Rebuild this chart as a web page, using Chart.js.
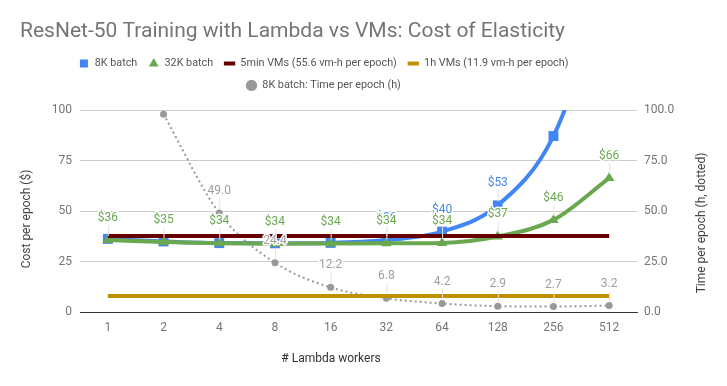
<!DOCTYPE html>
<html>
<head>
<meta charset="utf-8">
<script src="https://cdn.jsdelivr.net/npm/chart.js@4.4.1/dist/chart.umd.min.js"></script>
<style>
  html, body { margin: 0; padding: 0; background: #fff; }
  #wrap { width: 727px; height: 386px; position: relative; }
</style>
</head>
<body>
<div id="wrap"><canvas id="elasticityChart"></canvas></div>
<script>
// x categories: number of Lambda workers
const workers = ['1', '2', '4', '8', '16', '32', '64', '128', '256', '512'];

// cost per epoch ($), left axis
const cost8k = [36.2, 34.9, 34.1, 34.0, 34.2, 35.6, 39.8, 52.8, 87.1, 165];
const cost32k = [35.6, 34.6, 34.0, 33.8, 33.9, 34.0, 34.2, 37.4, 45.6, 66.3];
const vm5min = [37.6, 37.6, 37.6, 37.6, 37.6, 37.6, 37.6, 37.6, 37.6, 37.6];
const vm1h = [7.9, 7.9, 7.9, 7.9, 7.9, 7.9, 7.9, 7.9, 7.9, 7.9];

// time per epoch (h), right axis; first point is above the axis range
const time8k = [null, 97.9, 49.0, 24.4, 12.2, 6.8, 4.2, 2.9, 2.7, 3.2];

// which points carry a value label
const labelIdx8k = [5, 6, 7];
const labelIdx32k = [0, 1, 2, 3, 4, 5, 6, 7, 8, 9];
const labelIdxTime = [2, 3, 4, 5, 6, 7, 8, 9];

const yTicks = [0, 25, 50, 75, 100];

Chart.defaults.font.family = 'Roboto, "Noto Sans", sans-serif';
Chart.defaults.font.size = 12;

const legendStyles = ['rect', 'triangle', 'line', 'line', 'circle'];

// value labels with a thin leader line, drawn over the series
const pointLabels = {
    id: 'pointLabels',
    afterDatasetsDraw(chart) {
        const ctx = chart.ctx;
        const area = chart.chartArea;
        ctx.save();
        ctx.font = '12px Roboto';
        ctx.textAlign = 'center';
        ctx.textBaseline = 'middle';
        [4, 0, 1].forEach(i => {
            const ds = chart.data.datasets[i];
            const meta = chart.getDatasetMeta(i);
            ds.labelIdx.forEach(j => {
                const pt = meta.data[j];
                const v = ds.data[j];
                if (v == null || pt.y < area.top) return;
                const text = ds.fmt(v);
                const y = pt.y - 22;
                ctx.strokeStyle = '#e3e3e3';
                ctx.lineWidth = 1;
                ctx.beginPath();
                ctx.moveTo(pt.x + 0.5, y + 7);
                ctx.lineTo(pt.x + 0.5, pt.y - 4);
                ctx.stroke();
                ctx.lineWidth = 3;
                ctx.lineJoin = 'round';
                ctx.strokeStyle = '#fff';
                ctx.strokeText(text, pt.x, y);
                ctx.fillStyle = ds.labelColor;
                ctx.fillText(text, pt.x, y);
            });
        });
        ctx.restore();
    }
};

// axis titles placed like the original (centred on its own spots)
const axisTitles = {
    id: 'axisTitles',
    afterDraw(chart) {
        const ctx = chart.ctx;
        ctx.save();
        ctx.font = '12px Roboto';
        ctx.textAlign = 'center';
        ctx.textBaseline = 'middle';
        ctx.fillStyle = '#444';
        ctx.save();
        ctx.translate(27, 219);
        ctx.rotate(-Math.PI / 2);
        ctx.fillText('Cost per epoch ($)', 0, 0);
        ctx.restore();
        ctx.save();
        ctx.translate(702, 223);
        ctx.rotate(-Math.PI / 2);
        ctx.fillText('Time per epoch (h, dotted)', 0, 0);
        ctx.restore();
        ctx.fillStyle = '#333';
        ctx.fillText('# Lambda workers', 331, 359);
        ctx.restore();
    }
};

// legend in the original sits left of the plot centre
const legendShift = {
    id: 'legendShift',
    afterLayout(chart) {
        chart.legend.left -= 35;
        chart.legend.right -= 35;
    }
};

const ctx = document.getElementById('elasticityChart').getContext('2d');
new Chart(ctx, {
    type: 'line',
    data: {
        labels: workers,
        datasets: [
            {
                label: '8K batch',
                data: cost8k,
                yAxisID: 'y',
                borderColor: '#4285f4',
                backgroundColor: '#4285f4',
                borderWidth: 4,
                pointStyle: 'rect',
                pointRadius: 7,
                pointBorderWidth: 0,
                cubicInterpolationMode: 'monotone',
                order: 4,
                labelIdx: labelIdx8k,
                labelColor: '#4285f4',
                fmt: v => '$' + Math.round(v)
            },
            {
                label: '32K batch',
                data: cost32k,
                yAxisID: 'y',
                borderColor: '#6aa84f',
                backgroundColor: '#6aa84f',
                borderWidth: 4,
                pointStyle: 'triangle',
                pointRadius: 6,
                pointBorderWidth: 0,
                cubicInterpolationMode: 'monotone',
                order: 3,
                labelIdx: labelIdx32k,
                labelColor: '#6aa84f',
                fmt: v => '$' + Math.round(v)
            },
            {
                label: '5min VMs (55.6 vm-h per epoch)',
                data: vm5min,
                yAxisID: 'y',
                borderColor: '#660000',
                backgroundColor: '#660000',
                borderWidth: 4,
                pointRadius: 0,
                order: 2,
                labelIdx: []
            },
            {
                label: '1h VMs (11.9 vm-h per epoch)',
                data: vm1h,
                yAxisID: 'y',
                borderColor: '#bf9000',
                backgroundColor: '#bf9000',
                borderWidth: 4,
                pointRadius: 0,
                order: 1,
                labelIdx: []
            },
            {
                label: '8K batch: Time per epoch (h)',
                data: time8k,
                yAxisID: 'y1',
                borderColor: '#999999',
                backgroundColor: '#999999',
                borderWidth: 2,
                borderDash: [2, 3],
                pointStyle: 'circle',
                pointRadius: 3.5,
                pointBorderWidth: 0,
                cubicInterpolationMode: 'monotone',
                order: 5,
                labelIdx: labelIdxTime,
                labelColor: '#9e9e9e',
                fmt: v => v.toFixed(1)
            }
        ]
    },
    options: {
        responsive: true,
        maintainAspectRatio: false,
        animation: false,
        events: [],
        layout: {
            padding: { left: 20, top: 9, right: 0, bottom: 0 }
        },
        plugins: {
            title: {
                display: true,
                text: 'ResNet-50 Training with Lambda vs VMs: Cost of Elasticity',
                align: 'start',
                color: '#757575',
                font: { size: 21, weight: 'normal' },
                padding: { top: 10, bottom: 3 }
            },
            // empty box used as the gap between legend and plot
            subtitle: {
                display: true,
                text: '',
                weight: 500,
                font: { size: 1 },
                padding: { top: 8, bottom: 0 }
            },
            legend: {
                position: 'top',
                fullSize: false,
                labels: {
                    usePointStyle: true,
                    boxWidth: 12,
                    boxHeight: 8,
                    padding: 11,
                    color: '#555',
                    font: { size: 10.8 },
                    generateLabels(chart) {
                        return chart.data.datasets.map((ds, i) => ({
                            text: ds.label,
                            datasetIndex: i,
                            pointStyle: legendStyles[i],
                            fillStyle: ds.borderColor,
                            strokeStyle: ds.borderColor,
                            lineWidth: legendStyles[i] === 'line' ? 4 : 0,
                            fontColor: '#555',
                            hidden: false
                        }));
                    }
                }
            },
            tooltip: { enabled: false }
        },
        scales: {
            x: {
                offset: true,
                grid: { display: false, drawTicks: false },
                border: { color: '#333', width: 1 },
                ticks: { color: '#757575', padding: 9, maxRotation: 0, autoSkip: false },
                afterFit: s => { s.height = 74; }
            },
            y: {
                position: 'left',
                min: 0,
                max: 100,
                afterBuildTicks: s => { s.ticks = yTicks.map(v => ({ value: v })); },
                ticks: { color: '#757575', padding: 8 },
                grid: {
                    color: c => (c.tick && c.tick.value === 0 ? '#333' : '#cccccc'),
                    drawTicks: false
                },
                border: { display: false },
                afterFit: s => { s.width = 60; }
            },
            y1: {
                position: 'right',
                min: 0,
                max: 100,
                afterBuildTicks: s => { s.ticks = yTicks.map(v => ({ value: v })); },
                ticks: { color: '#757575', padding: 7, callback: v => v.toFixed(1) },
                grid: { drawOnChartArea: false, drawTicks: false },
                border: { display: false },
                afterFit: s => { s.width = 90; }
            }
        }
    },
    plugins: [pointLabels, axisTitles, legendShift]
});
</script>
</body>
</html>
